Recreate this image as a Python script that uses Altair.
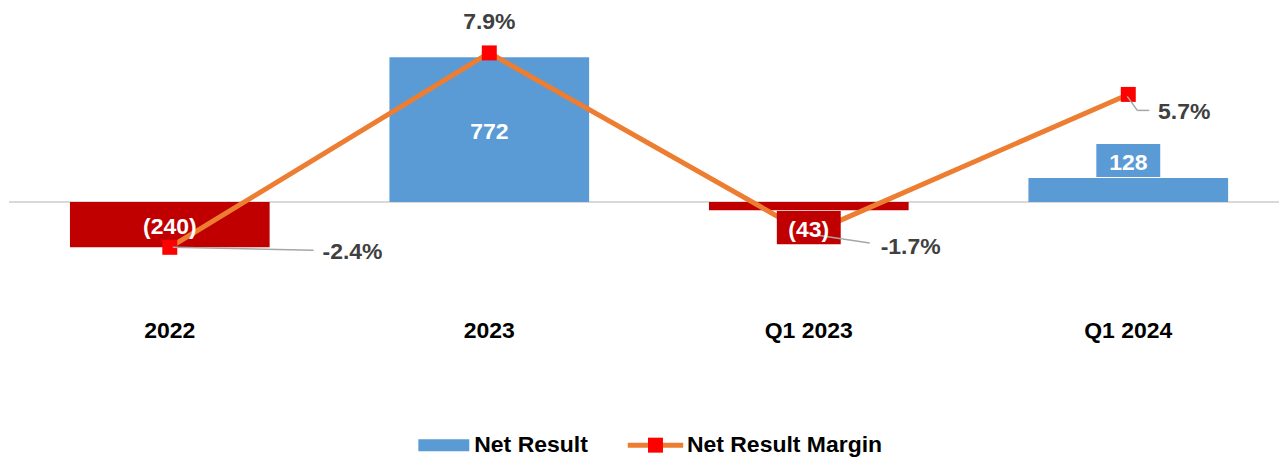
import altair as alt
import pandas as pd

categories = ["2022", "2023", "Q1 2023", "Q1 2024"]
net_result = [-240, 772, -43, 128]
net_margin = [-2.4, 7.9, -1.7, 5.7]

df = pd.DataFrame({"cat": categories, "v": net_result, "m": net_margin})

BLUE = "#5B9BD5"
RED = "#C00000"
ORANGE = "#ED7D31"
MARK = "#FF0000"
GREY_TXT = "#404040"
LEADER = "#A6A6A6"
FONT = "Liberation Sans"
FS = 23

W, H = 1272, 292

x = alt.X(
    "cat:N",
    sort=categories,
    scale=alt.Scale(paddingInner=0.375, paddingOuter=0.175, align=0.545),
    axis=alt.Axis(
        title=None, labelAngle=0, domain=False, ticks=False, labelPadding=20,
        labelFontSize=FS, labelFontWeight="bold", labelColor="#000000", labelFont=FONT,
    ),
)

ybar_scale = alt.Scale(domain=[-521, 1032], nice=False, zero=False)
ym_scale = alt.Scale(domain=[-5.185, 10.26], nice=False, zero=False)

legend_common = dict(
    title=None, orient="none", padding=0, labelFontSize=FS, labelFont=FONT,
    labelFontWeight="bold", labelColor="#000000", labelBaseline="middle", labelLimit=500,
)

LEG_Y = 426

color = alt.Color(
    "key:N",
    scale=alt.Scale(domain=["Net Result", "Loss"], range=[BLUE, RED]),
    legend=alt.Legend(
        values=["Net Result"], legendX=424, legendY=LEG_Y,
        symbolType="M-3.4,-0.8H3.4V0.8H-3.4Z", symbolSize=225, symbolStrokeWidth=0,
        labelOffset=19, **legend_common,
    ),
)

base = alt.Chart(df).transform_calculate(
    key="datum.v < 0 ? 'Loss' : 'Net Result'",
    series="'Net Result Margin'",
    marker="'Marker'",
    lc="abs(datum.v) > 200 ? datum.v / 2 : datum.v + (datum.v < 0 ? -93 : 93)",
    b0="datum.lc - 88",
    b1="datum.lc + 88",
    lbl="datum.v < 0 ? '(' + format(abs(datum.v), ',') + ')' : format(datum.v, ',')",
    plbl="(datum.m < 0 ? '-' : '') + format(abs(datum.m), '.1f') + '%'",
)

zero = base.mark_rule(color="#D9D9D9", strokeWidth=1.5).encode(
    y=alt.YDatum(0, scale=ybar_scale, axis=None)
)

bars = base.mark_bar().encode(
    x=x, y=alt.Y("v:Q", scale=ybar_scale, axis=None), color=color
)

line = base.mark_line(strokeWidth=5).encode(
    x=x,
    y=alt.Y("m:Q", scale=ym_scale, axis=None),
    stroke=alt.Stroke(
        "series:N",
        scale=alt.Scale(domain=["Net Result Margin"], range=[ORANGE]),
        legend=alt.Legend(
            legendX=636, legendY=LEG_Y, symbolType="M-3.7,0H3.7", symbolSize=225,
            symbolStrokeWidth=5, labelOffset=20, **legend_common,
        ),
    ),
)

pts = base.mark_square(size=225, opacity=1).encode(
    x=x,
    y=alt.Y("m:Q", scale=ym_scale, axis=None),
    fill=alt.Fill(
        "marker:N",
        scale=alt.Scale(domain=["Marker"], range=[MARK]),
        legend=alt.Legend(
            legendX=636, legendY=LEG_Y, symbolType="square", symbolSize=225,
            symbolStrokeWidth=0, labelExpr="''", **legend_common,
        ),
    ),
)

boxes = base.transform_filter("abs(datum.v) <= 200").mark_bar(size=64).encode(
    x=x,
    y=alt.Y("b0:Q", scale=ybar_scale, axis=None),
    y2="b1:Q",
    color=color,
)


def leader(cat, xo, yo, x2o, y2o):
    return base.transform_filter(alt.datum.cat == cat).mark_rule(
        color=LEADER, strokeWidth=1.5, xOffset=xo, yOffset=yo, x2Offset=x2o, y2Offset=y2o
    ).encode(
        x=x, x2="cat:N",
        y=alt.Y("m:Q", scale=ym_scale, axis=None), y2="m:Q",
    )


leaders = [
    leader("2022", 3, 0, 144, 3),
    leader("Q1 2023", 1, 0, 34, 5),
    leader("Q1 2023", 34, 5, 61, 9),
    leader("Q1 2024", -1, 2, 9, 16),
    leader("Q1 2024", 9, 16, 21, 16),
]

barlbl = base.mark_text(
    font=FONT, fontSize=FS, fontWeight="bold", color="white", baseline="middle", dy=2
).encode(x=x, y=alt.Y("lc:Q", scale=ybar_scale, axis=None), text="lbl:N")


def pct(cat, dx, dy):
    return base.transform_filter(alt.datum.cat == cat).mark_text(
        font=FONT, fontSize=FS, fontWeight="bold", color=GREY_TXT,
        baseline="middle", dx=dx, dy=dy,
    ).encode(x=x, y=alt.Y("m:Q", scale=ym_scale, axis=None), text="plbl:N")


pcts = [pct("2022", 183, 5), pct("2023", 0, -31), pct("Q1 2023", 102, 13), pct("Q1 2024", 56, 18)]

chart = alt.layer(
    zero, bars, line, pts, boxes, *leaders, barlbl, *pcts
).resolve_scale(y="independent").properties(
    width=W, height=H, padding=0
).configure_view(stroke=None)

chart.save("out.html", embed_options={"renderer": "svg", "actions": False})
